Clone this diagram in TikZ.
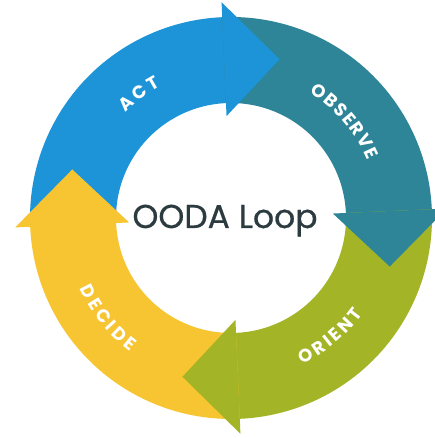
\documentclass[tikz,border=0pt]{standalone}
\usepackage{fontspec}
\setmainfont{Poppins}
\newfontfamily\titlefam[FakeBold=0.6]{Poppins}
\usetikzlibrary{decorations.text}
\definecolor{actblue}{HTML}{1C94D7}
\definecolor{obsteal}{HTML}{2D8597}
\definecolor{oriGreen}{HTML}{A3B526}
\definecolor{decYellow}{HTML}{F7C531}
\definecolor{titlecol}{HTML}{2B3B40}
\newcommand\lblfont{\fontsize{18}{20}\selectfont\bfseries}
\tikzset{
  ringlabel/.style={decorate,decoration={text along path,text={|\lblfont|#1},text color=white,text align=fit to path}}
}
\begin{document}
\begin{tikzpicture}[x=1pt,y=1pt]
\useasboundingbox (0,0) rectangle (435,438);
\clip (0,0) rectangle (435,438);
\fill[white] (0,0) rectangle (435,438);
\begin{scope}[shift={(231,220)}]
\def\Ro{201}\def\Ri{115}\def\Bo{216}\def\Bi{102}\def\Rt{166}
% bodies
\foreach \b/\c in {92.5/actblue,2.5/obsteal,-87.5/oriGreen,-177.5/decYellow}{
  \pgfmathsetmacro\sa{\b+90}
  \pgfmathsetmacro\ea{\b-0.6}
  \fill[\c] (\sa:\Ro) arc[start angle=\sa,end angle=\ea,radius=\Ro] -- (\ea:\Ri) arc[start angle=\ea,end angle=\sa,radius=\Ri] -- cycle;
}
% arrowheads
\foreach \b/\c in {92.5/actblue,2.5/obsteal,-87.5/oriGreen,-177.5/decYellow}{
  \pgfmathsetmacro\ta{\b-19.5}
  \fill[\c] (\b:\Bi) -- (\b:\Bo) -- (\ta:\Rt) -- cycle;
}
% labels
\path[ringlabel=ACT] (135:149) arc[start angle=135,end angle=118,radius=149];
\path[ringlabel=OBSERVE] (58:148) arc[start angle=58,end angle=23,radius=148];
\path[ringlabel=ORIENT] (-64:163) arc[start angle=-64,end angle=-36,radius=163];
\path[ringlabel=DECIDE] (205:167) arc[start angle=205,end angle=233,radius=167];
\end{scope}
\node[font=\titlefam\fontsize{33}{38}\selectfont, text=titlecol, anchor=base, inner sep=0pt] (title) at (225,210) {OODA Loop};
\end{tikzpicture}
\end{document}
